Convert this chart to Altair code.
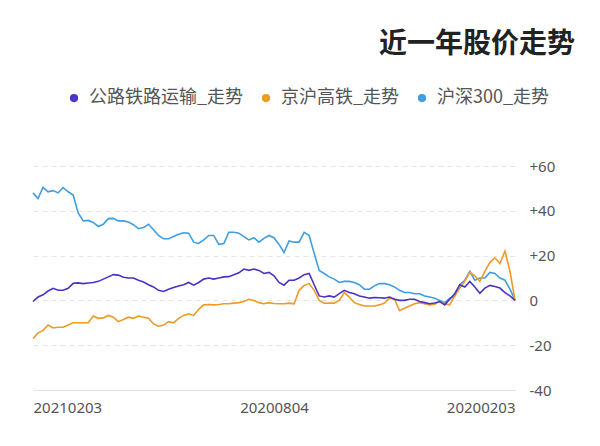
import altair as alt
import pandas as pd

start_date = "2020-02-03"
end_date = "2021-02-03"

# values, in chronological order (start -> end)
hs300 = [0, 5, 9, 10, 12, 12.5, 10, 10, 9, 13, 9, 7, 2, 1, -1, 0, 1, 1.5, 2, 3,
         3, 3.5, 3.5, 4.5, 6, 7, 7.5, 7.5, 6.5, 5, 5, 7, 8, 8.5, 8.5, 8, 9.5, 10.5, 12, 13.4,
         21, 29, 30.4, 26, 26, 26.5, 21.4, 25, 28, 29, 27.7, 26, 28, 27, 28.5, 30, 30.4, 30.4, 25.4, 25,
         29, 29, 27, 25.4, 26, 30, 30.2, 29.5, 28.5, 27.5, 27.5, 29, 31.5, 34, 32.5, 32, 33.8, 35, 35.5, 35.5,
         36.6, 36.5, 34, 33, 34.8, 35.7, 35.5, 39, 47, 48.5, 50.4, 48, 49, 48.5, 50.5, 45.5, 48]

jhgt = [0, 13, 22, 16.5, 19, 17, 13, 8.5, 11, 12.5, 8.5, 5.5, 2, -2, -1.5, -0.5, -1.7, -2, -1.5, -1,
        -1.5, -2.5, -3.5, -4.5, 0.5, 1, -1.2, -2, -2.5, -2.5, -2.5, -1.8, -1, 1.5, 3.5, 0, -1.2, -1.2, -1.3, 0,
        4.5, 7.5, 6.7, 4.5, -1.5, -1.2, -1.5, -1.5, -1.4, -1, -1.5, -1, 0, 0.5, -0.5, -1, -1.2, -1.5, -1.5, -1.8,
        -2, -1.8, -2, -4, -6.7, -6, -6.7, -8, -10, -9.5, -11, -11.5, -10.5, -8, -7.5, -7, -8, -7.5, -8.5, -9.5,
        -7.5, -6.7, -7.8, -8, -7, -10, -10, -10, -10, -11, -12, -12, -12.3, -11, -13.4, -14.5, -17]

glts = [0, 2, 3.5, 5.5, 6.2, 6.7, 5.5, 3.2, 6, 8.5, 6, 7, 3, 0.5, -2, -0.5, -1.2, -1.5, -1, -0.5,
        0.5, 0.5, 0, 0, 0.5, 1.5, 1, 1.2, 1.3, 1, 1.5, 2, 3, 3.5, 4.5, 3, 1.5, 2, 1.5, 2,
        7, 12, 11.5, 10, 9, 9, 6.8, 8, 11, 12.5, 12, 13.4, 14, 13.4, 14, 12.3, 11.5, 10.6, 10.5, 10,
        9.5, 10, 9.5, 8, 6.8, 8, 7, 6.4, 5.8, 5, 4, 4.5, 6, 7, 8.2, 9, 10, 10, 10.3, 11.3,
        11.5, 10.5, 9.5, 8.5, 8, 7.8, 7.5, 7.8, 7.6, 5.4, 4.5, 4.5, 5.4, 4.2, 2.5, 1.5, -0.5]

series_names = ["公路铁路运输_走势", "京沪高铁_走势", "沪深300_走势"]
series_colors = ["#4b32c3", "#ee9b26", "#3f9ee0"]
y_ticks = [-40, -20, 0, 20, 40, 60]

dates = pd.date_range(start_date, end_date, periods=len(hs300))
rows = []
for name, vals in [("沪深300_走势", hs300), ("京沪高铁_走势", jhgt), ("公路铁路运输_走势", glts)]:
    for d, v in zip(dates, vals):
        rows.append({"date": d.strftime("%Y-%m-%dT%H:%M:%S"), "value": v, "series": name})
df = pd.DataFrame(rows)

chart = alt.Chart(df).mark_line(strokeWidth=1.6).encode(
    x=alt.X(
        "date:T",
        scale=alt.Scale(
            reverse=True,
            nice=False,
            domain=[alt.DateTime(year=2020, month=2, date=3), alt.DateTime(year=2021, month=2, date=3)],
        ),
        axis=alt.Axis(
            title=None,
            values=[alt.DateTime(year=2020, month=2, date=3),
                    alt.DateTime(year=2020, month=8, date=4),
                    alt.DateTime(year=2021, month=2, date=3)],
            format="%Y%m%d",
            labelFlush=True,
            grid=False,
            ticks=False,
            domain=True,
            domainColor="#e3e3e3",
            labelFontSize=15,
            labelColor="#555555",
            labelPadding=10,
            labelFont="Noto Sans",
        ),
    ),
    y=alt.Y(
        "value:Q",
        scale=alt.Scale(domain=[-40, 60], nice=False),
        axis=alt.Axis(
            title=None,
            orient="right",
            values=y_ticks,
            labelExpr="datum.value > 0 ? '+' + datum.value : '' + datum.value",
            domain=False,
            ticks=False,
            grid=True,
            gridDash={"condition": {"test": "datum.value === -40", "value": []}, "value": [5, 4]},
            gridColor="#e6e6e6",
            labelFontSize=15,
            labelColor="#555555",
            labelPadding=14,
            labelAlign="left",
            labelFont="Noto Sans",
        ),
    ),
    color=alt.Color(
        "series:N",
        scale=alt.Scale(domain=series_names, range=series_colors),
        legend=alt.Legend(
            title=None,
            orient="none",
            legendX=32,
            legendY=-77,
            direction="horizontal",
            symbolType="circle",
            symbolSize=14,
            symbolStrokeWidth=4.5,
            labelFontSize=18,
            labelLimit=400,
            labelColor="#555555",
            labelFont="Noto Sans CJK SC",
            labelOffset=6,
            columnPadding=11,
        ),
    ),
).properties(
    width=482,
    height=224,
    autosize=alt.AutoSizeParams(type="none"),
    padding={"left": 25, "top": 158, "right": 76, "bottom": 40},
    title=alt.TitleParams(
        "近一年股价走势",
        anchor="end",
        frame="group",
        fontSize=28,
        fontWeight="bold",
        color="#222222",
        font="Noto Sans CJK SC",
        offset=30,
        dx=60,
    ),
).configure_view(stroke=None)

chart.save("out.html", embed_options={"renderer": "svg", "actions": False})
